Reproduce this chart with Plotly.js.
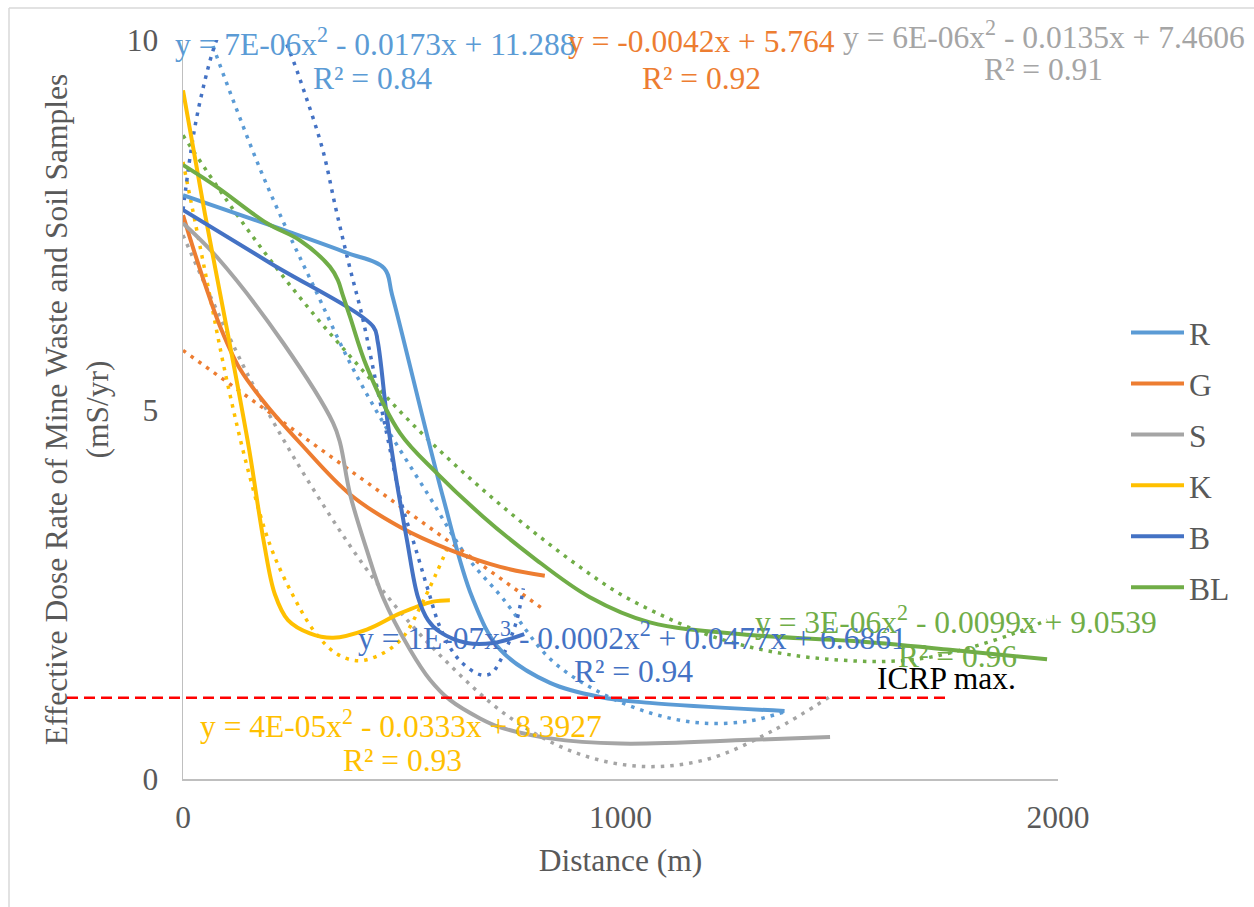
<!DOCTYPE html>
<html><head><meta charset="utf-8">
<script src="https://cdn.plot.ly/plotly-3.0.1.min.js"></script>
<style>html,body{margin:0;padding:0;background:#fff}#chart{width:1254px;height:907px}</style>
</head><body><div id="chart"></div>
<script>
// ---- data ----
const seriesNames = ['R', 'G', 'S', 'K', 'B', 'BL'];
const seriesColors = ['#5B9BD5', '#ED7D31', '#A5A5A5', '#FFC000', '#4472C4', '#70AD47'];

const R_x = [0, 230, 375, 460, 478, 594, 661, 725, 839, 953, 1067, 1375];
const R_y = [7.90, 7.43, 7.12, 6.91, 6.55, 3.82, 2.46, 1.75, 1.30, 1.11, 1.03, 0.92];
const G_x = [0, 25, 50, 85, 130, 192, 267, 382, 496, 610, 725, 827];
const G_y = [7.63, 7.15, 6.70, 6.12, 5.55, 5.05, 4.55, 3.85, 3.41, 3.10, 2.87, 2.75];
const S_x = [0, 78, 229, 343, 359, 382, 420, 457, 519, 565, 610, 679, 725, 839, 1000, 1296, 1479];
const S_y = [7.52, 7.06, 5.90, 4.82, 4.55, 3.85, 3.10, 2.46, 1.75, 1.34, 1.07, 0.82, 0.70, 0.55, 0.48, 0.53, 0.57];
const K_x = [0, 50, 100, 150, 185, 210, 240, 290, 343, 420, 496, 571, 610];
const K_y = [9.32, 7.65, 6.10, 4.50, 3.20, 2.50, 2.15, 1.97, 1.91, 2.02, 2.24, 2.40, 2.42];
const B_x = [0, 200, 435, 445, 466, 489, 512, 537, 560, 587, 649, 709, 780];
const B_y = [7.70, 6.98, 6.12, 5.92, 4.90, 4.00, 3.23, 2.46, 2.15, 1.99, 1.84, 1.84, 1.96];
const BL_x = [0, 78, 192, 267, 336, 354, 365, 382, 420, 496, 580, 686, 800, 930, 1067, 1296, 1525, 1753, 1975];
const BL_y = [8.31, 8.01, 7.52, 7.29, 6.93, 6.75, 6.55, 6.25, 5.58, 4.68, 4.14, 3.55, 3.00, 2.46, 2.12, 1.95, 1.87, 1.75, 1.62];

// trendlines (dotted)
const R_tx = [0, 60, 120, 180, 240, 300, 380, 450, 560, 650, 730, 840, 950, 1070, 1180, 1290, 1375];
const R_ty = [11.0, 10.05, 9.1, 8.2, 7.4, 6.65, 5.65, 4.9, 3.85, 3.0, 2.45, 1.62, 1.18, 0.89, 0.76, 0.78, 0.91];
const G_tx = [0, 823];
const G_ty = [5.80, 2.30];
const S_tx = [0, 150, 300, 450, 600, 750, 900, 1050, 1200, 1350, 1480];
const S_ty = [7.36, 5.45, 3.90, 2.60, 1.60, 0.82, 0.35, 0.17, 0.27, 0.66, 1.12];
const K_tx = [0, 50, 100, 150, 200, 250, 300, 350, 400, 450, 500, 550, 610];
const K_ty = [8.35, 6.88, 5.40, 4.15, 3.15, 2.50, 2.00, 1.70, 1.60, 1.68, 1.90, 2.42, 3.20];
const B_tx = [0, 25, 50, 75, 100, 155, 200, 240, 280, 320, 350, 380, 410, 440, 470, 500, 530, 560, 590, 630, 680, 705, 725, 745, 763, 778];
const B_ty = [7.70, 8.75, 9.45, 9.97, 10.3, 10.6, 10.4, 9.90, 9.25, 8.50, 7.70, 6.95, 6.25, 5.40, 4.55, 3.72, 3.15, 2.56, 2.02, 1.62, 1.41, 1.43, 1.60, 1.85, 2.15, 2.58];
const BL_tx = [0, 100, 200, 300, 400, 500, 600, 700, 800, 900, 1000, 1100, 1200, 1300, 1400, 1500, 1600, 1700, 1800, 1900, 1975];
const BL_ty = [8.71, 7.83, 7.02, 6.28, 5.60, 4.95, 4.37, 3.84, 3.35, 2.90, 2.50, 2.20, 1.95, 1.78, 1.67, 1.61, 1.59, 1.64, 1.78, 1.97, 2.15];

const trendEquations = [
  'y = 7E-06x<sup>2</sup> - 0.0173x + 11.288',
  'y = -0.0042x + 5.764',
  'y = 6E-06x<sup>2</sup> - 0.0135x + 7.4606',
  'y = 4E-05x<sup>2</sup> - 0.0333x + 8.3927',
  'y = 1E-07x<sup>3</sup> - 0.0002x<sup>2</sup> + 0.0477x + 6.6861',
  'y = 3E-06x<sup>2</sup> - 0.0099x + 9.0539'
];
const trendR2 = ['R² = 0.84', 'R² = 0.92', 'R² = 0.91', 'R² = 0.93', 'R² = 0.94', 'R² = 0.96'];
const icrpValue = 1.1;
const icrpLabel = 'ICRP max.';
const xTicks = [0, 1000, 2000];
const yTicks = [0, 5, 10];

// ---- build ----
const FONT = 'Liberation Serif';
const FS = 31.5;
const solids = [[R_x, R_y], [G_x, G_y], [S_x, S_y], [K_x, K_y], [B_x, B_y], [BL_x, BL_y]];
const trends = [[R_tx, R_ty], [G_tx, G_ty], [S_tx, S_ty], [K_tx, K_ty], [B_tx, B_ty], [BL_tx, BL_ty]];

const traces = [];
trends.forEach((s, i) => {
  traces.push({
    x: s[0], y: s[1], type: 'scatter', mode: 'lines', showlegend: false, hoverinfo: 'skip',
    line: {color: seriesColors[i], width: 3.5, dash: '3.5px,6px', shape: i === 1 ? 'linear' : 'spline', smoothing: 1}
  });
});
solids.forEach((s, i) => {
  traces.push({
    x: s[0], y: s[1], type: 'scatter', mode: 'lines', name: seriesNames[i],
    legendgroup: 'g' + i,
    line: {color: seriesColors[i], width: 4, shape: 'spline', smoothing: 1}
  });
});

// label positions (pixel centers -> paper)
const L = 183, T = 40, W = 875, H = 739;
const px = v => (v - L) / W;
const py = v => (T + H - v) / H;
const eqPos = [
  [[375, 42], [372, 78]],
  [[701, 42], [701, 78]],
  [[1044, 35], [1043, 70]],
  [[401, 724], [402, 760]],
  [[632, 636], [633, 671]],
  [[956, 620], [957, 656]]
];
const annotations = [];
eqPos.forEach((p, i) => {
  annotations.push({xref: 'paper', yref: 'paper', x: px(p[0][0]), y: py(p[0][1]), text: trendEquations[i],
    showarrow: false, xanchor: 'center', yanchor: 'middle', font: {family: FONT, size: FS, color: seriesColors[i]}});
  annotations.push({xref: 'paper', yref: 'paper', x: px(p[1][0]), y: py(p[1][1]), text: trendR2[i],
    showarrow: false, xanchor: 'center', yanchor: 'middle', font: {family: FONT, size: FS, color: seriesColors[i]}});
});
annotations.push({xref: 'paper', yref: 'paper', x: px(946), y: py(678), text: icrpLabel, showarrow: false,
  xanchor: 'center', yanchor: 'middle', font: {family: FONT, size: FS, color: '#000000'}});

const shapes = [
  {type: 'line', xref: 'paper', yref: 'y', x0: px(67), x1: px(948), y0: icrpValue, y1: icrpValue,
   line: {color: '#FF0000', width: 2.5, dash: '11px,6px'}},
  {type: 'line', xref: 'paper', yref: 'paper', x0: px(9), x1: px(1254), y0: py(8), y1: py(8), line: {color: '#D9D9D9', width: 1.5}},
  {type: 'line', xref: 'paper', yref: 'paper', x0: px(9), x1: px(9), y0: py(8), y1: py(907), line: {color: '#D9D9D9', width: 1.5}}
];

const layout = {
  width: 1254, height: 907,
  margin: {l: L, r: 1254 - L - W, t: T, b: 907 - T - H},
  paper_bgcolor: '#ffffff', plot_bgcolor: '#ffffff',
  font: {family: FONT, size: FS, color: '#595959'},
  showlegend: true,
  legend: {x: px(1126), xanchor: 'left', y: py(460), yanchor: 'middle', tracegroupgap: 7, traceorder: 'grouped',
    font: {family: FONT, size: FS, color: '#595959'}, bgcolor: 'rgba(0,0,0,0)', itemwidth: 53},
  xaxis: {range: [0, 2000], tickvals: xTicks, ticktext: xTicks.map(String), showgrid: false, zeroline: false,
    showline: true, linecolor: '#BFBFBF', linewidth: 1.5, ticks: '', ticklabelstandoff: 10,
    automargin: false, tickfont: {family: FONT, size: FS, color: '#595959'},
    title: {text: 'Distance (m)', font: {family: FONT, size: FS, color: '#595959'}, standoff: 14}},
  yaxis: {range: [0, 10], tickvals: yTicks, ticktext: yTicks.map(String), showgrid: false, zeroline: false,
    showline: true, linecolor: '#BFBFBF', linewidth: 1.5, ticks: '', ticklabelstandoff: 17,
    automargin: false, tickfont: {family: FONT, size: FS, color: '#595959'},
    title: {text: 'Effective Dose Rate of Mine Waste and Soil Samples<br>(mS/yr)', font: {family: FONT, size: FS, color: '#595959'}, standoff: 8}},
  annotations: annotations,
  shapes: shapes
};
Plotly.newPlot('chart', traces, layout, {displayModeBar: false, staticPlot: true});
</script>
</body></html>
